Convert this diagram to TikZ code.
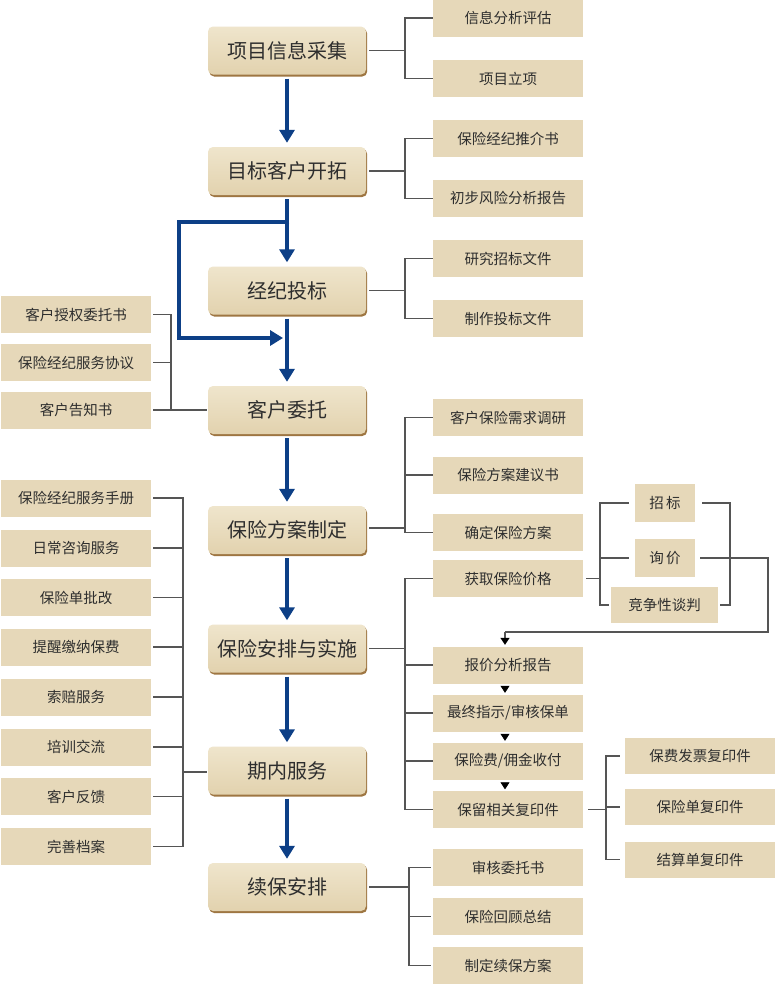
\documentclass[tikz,border=0pt]{standalone}
\usepackage{fontspec}
\setmainfont{Noto Sans CJK SC}
\usetikzlibrary{arrows.meta,shadows}
\definecolor{subfill}{HTML}{E6D8B9}
\definecolor{maintop}{HTML}{EFE5CC}
\definecolor{mainbot}{HTML}{E2D2AE}
\definecolor{shadowc}{HTML}{9E7642}
\definecolor{flowblue}{HTML}{0D3F86}
\definecolor{linegray}{HTML}{555555}
\definecolor{txt}{HTML}{2E2E2E}
\tikzset{
  mainbox/.style={rectangle, rounded corners=5pt, minimum width=158pt, minimum height=48pt,
    top color=maintop, bottom color=mainbot, draw=none, text=txt,
    font=\fontsize{20}{24}\selectfont, inner sep=0pt,
    drop shadow={shadow xshift=1.2pt, shadow yshift=-2pt, fill=shadowc, opacity=1}},
  subbox/.style={rectangle, fill=subfill, draw=none, minimum width=150pt, minimum height=37pt,
    text=txt, font=\fontsize{14.5}{17}\selectfont, inner sep=0pt},
  smallbox/.style={subbox, minimum width=60pt, minimum height=38pt},
  flow/.style={draw=flowblue, line width=4.5pt, line join=miter,
    -{Triangle[width=15pt,length=13pt]}, shorten <=4pt, shorten >=4pt},
  flowline/.style={draw=flowblue, line width=4.5pt, line join=miter},
  conn/.style={draw=linegray, line width=1.3pt},
  tiny/.style={draw=black, line width=0.8pt, -{Triangle[width=9pt,length=7pt,color=black]}},
}
\begin{document}
\begin{tikzpicture}[x=1pt,y=-1pt]
\useasboundingbox (0,0) rectangle (780,985);
\fill[white] (0,0) rectangle (780,985);

% main column
\node[mainbox] (m1) at (287,50.5) {项目信息采集};
\node[mainbox] (m2) at (287,171) {目标客户开拓};
\node[mainbox] (m3) at (287,290.5) {经纪投标};
\node[mainbox] (m4) at (287,410) {客户委托};
\node[mainbox] (m5) at (287,530) {保险方案制定};
\node[mainbox] (m6) at (287,648.5) {保险安排与实施};
\node[mainbox] (m7) at (287,770.5) {期内服务};
\node[mainbox] (m8) at (287,887) {续保安排};

% right sub boxes
\node[subbox] (r1a) at (508,18) {信息分析评估};
\node[subbox] (r1b) at (508,78.5) {项目立项};
\node[subbox] (r2a) at (508,138.5) {保险经纪推介书};
\node[subbox] (r2b) at (508,198.5) {初步风险分析报告};
\node[subbox] (r3a) at (508,258.5) {研究招标文件};
\node[subbox] (r3b) at (508,318.5) {制作投标文件};
\node[subbox] (r5a) at (508,417.5) {客户保险需求调研};
\node[subbox] (r5b) at (508,475) {保险方案建议书};
\node[subbox] (r5c) at (508,532.5) {确定保险方案};
\node[subbox] (r6a) at (508,578.5) {获取保险价格};
\node[subbox] (r6b) at (508,665) {报价分析报告};
\node[subbox] (r6c) at (508,713) {最终指示/审核保单};
\node[subbox] (r6d) at (508,761) {保险费/佣金收付};
\node[subbox] (r6e) at (508,809.5) {保留相关复印件};
\node[subbox] (r8a) at (508,867.5) {审核委托书};
\node[subbox] (r8b) at (508,916.5) {保险回顾总结};
\node[subbox] (r8c) at (508,965.5) {制定续保方案};

% price boxes
\node[smallbox] (p1) at (665,503) {招\,标};
\node[smallbox] (p2) at (665,558) {询\,价};
\node[subbox, minimum width=107pt, minimum height=36pt] (p3) at (664.5,605) {竞争性谈判};

% copy boxes
\node[subbox, minimum height=36pt] (q1) at (700,756) {保费发票复印件};
\node[subbox, minimum height=36pt] (q2) at (700,807) {保险单复印件};
\node[subbox, minimum height=36pt] (q3) at (700,859.5) {结算单复印件};

% left boxes
\node[subbox] (l4a) at (76,314.5) {客户授权委托书};
\node[subbox] (l4b) at (76,362.5) {保险经纪服务协议};
\node[subbox] (l4c) at (76,410) {客户告知书};

\node[subbox] (l7a) at (76,498) {保险经纪服务手册};
\node[subbox] (l7b) at (76,548) {日常咨询服务};
\node[subbox] (l7c) at (76,597.5) {保险单批改};
\node[subbox] (l7d) at (76,647) {提醒缴纳保费};
\node[subbox] (l7e) at (76,697) {索赔服务};
\node[subbox] (l7f) at (76,747) {培训交流};
\node[subbox] (l7g) at (76,796.5) {客户反馈};
\node[subbox] (l7h) at (76,846.5) {完善档案};

% bracket x coordinates
\coordinate (bx) at (405,0);
\coordinate (bx8) at (409,0);
\coordinate (bp) at (600,0);
\coordinate (bpr) at (730,0);
\coordinate (bq) at (606,0);
\coordinate (bl4) at (171,0);
\coordinate (bl7) at (183,0);

% blue flow arrows
\draw[flow] (m1) -- (m2);
\draw[flow] (m2) -- (m3);
\draw[flow] (m3) -- (m4);
\draw[flow] (m4) -- (m5);
\draw[flow] (m5) -- (m6);
\draw[flow] (m6) -- (m7);
\draw[flow] (m7) -- (m8);
\coordinate (j1) at (287,222);
\coordinate (jl) at (179,280);
\coordinate (j2) at (283,338);
\draw[flowline, -{Triangle[width=15pt,length=13pt]}] ([xshift=2.25pt]j1) -- (j1 -| jl) -- (jl |- j2) -- (j2);

% right brackets
\draw[conn] ([xshift=3pt]m1.east) -- (m1.east -| bx);
\draw[conn] (r1a.west) -- (r1a.west -| bx) -- (r1b.west -| bx) -- (r1b.west);
\draw[conn] ([xshift=3pt]m2.east) -- (m2.east -| bx);
\draw[conn] (r2a.west) -- (r2a.west -| bx) -- (r2b.west -| bx) -- (r2b.west);
\draw[conn] ([xshift=3pt]m3.east) -- (m3.east -| bx);
\draw[conn] (r3a.west) -- (r3a.west -| bx) -- (r3b.west -| bx) -- (r3b.west);
\draw[conn] ([xshift=3pt,yshift=2pt]m5.east) -- ([yshift=2pt]m5.east -| bx);
\draw[conn] (r5a.west) -- (r5a.west -| bx) -- (r5c.west -| bx) -- (r5c.west);
\draw[conn] (r5b.west -| bx) -- (r5b.west);
\draw[conn] ([xshift=3pt]m6.east) -- (m6.east -| bx);
\draw[conn] (r6a.west) -- (r6a.west -| bx) -- (r6e.west -| bx) -- (r6e.west);
\draw[conn] (r6b.west -| bx) -- (r6b.west);
\draw[conn] (r6c.west -| bx) -- (r6c.west);
\draw[conn] (r6d.west -| bx) -- (r6d.west);
\draw[conn] ([xshift=3pt]m8.east) -- (m8.east -| bx8);
\draw[conn] ([xshift=-2pt]r8a.west) -- (r8a.west -| bx8) -- (r8c.west -| bx8) -- ([xshift=-2pt]r8c.west);
\draw[conn] (r8b.west -| bx8) -- ([xshift=-2pt]r8b.west);

% price brackets
\draw[conn] ([xshift=3pt]r6a.east) -- (r6a.east -| bp);
\draw[conn] ([xshift=-6pt]p1.west) -- (p1.west -| bp) -- (p3.west -| bp) -- ([xshift=-2pt]p3.west);
\draw[conn] (p2.west -| bp) -- ([xshift=-6pt]p2.west);
\draw[conn] ([xshift=7pt]p1.east) -- (p1.east -| bpr) -- (p3.east -| bpr) -- ([xshift=2pt]p3.east);
\coordinate (rt) at (768,632);
\coordinate (rd) at (505,632);
\draw[conn] ([xshift=5pt]p2.east) -- (p2.east -| rt) -- (rt) -- (rd);
\draw[tiny, line width=1.3pt, draw=linegray] (rd) -- ([yshift=1.5pt]rd |- r6b.north);
\draw[tiny] ([yshift=-4pt]rd |- r6b.south) -- ([yshift=1.5pt]rd |- r6c.north);
\draw[tiny] ([yshift=-4pt]rd |- r6c.south) -- ([yshift=1.5pt]rd |- r6d.north);
\draw[tiny] ([yshift=-4pt]rd |- r6d.south) -- ([yshift=1.5pt]rd |- r6e.north);

% copy bracket
\draw[conn] ([xshift=5pt]r6e.east) -- (r6e.east -| bq);
\draw[conn] ([xshift=-5pt]q1.west) -- (q1.west -| bq) -- (q3.west -| bq) -- ([xshift=-5pt]q3.west);
\draw[conn] (q2.west -| bq) -- ([xshift=-5pt]q2.west);

% left brackets
\draw[conn] ([xshift=2pt]l4a.east) -- (l4a.east -| bl4) -- (l4c.east -| bl4) -- ([xshift=-1pt]m4.west);
\draw[conn] ([xshift=2pt]l4b.east) -- (l4b.east -| bl4);
\draw[conn] ([xshift=2pt]l4c.east) -- (l4c.east -| bl4);

\draw[conn] ([xshift=2pt]l7a.east) -- (l7a.east -| bl7) -- (l7h.east -| bl7) -- ([xshift=2pt]l7h.east);
\foreach \n in {l7b,l7c,l7d,l7e,l7f,l7g}
  \draw[conn] ([xshift=2pt]\n.east) -- (\n.east -| bl7);
\draw[conn] ([yshift=-1.5pt]m7.west -| bl7) -- ([xshift=-1pt,yshift=-1.5pt]m7.west);
\end{tikzpicture}
\end{document}
